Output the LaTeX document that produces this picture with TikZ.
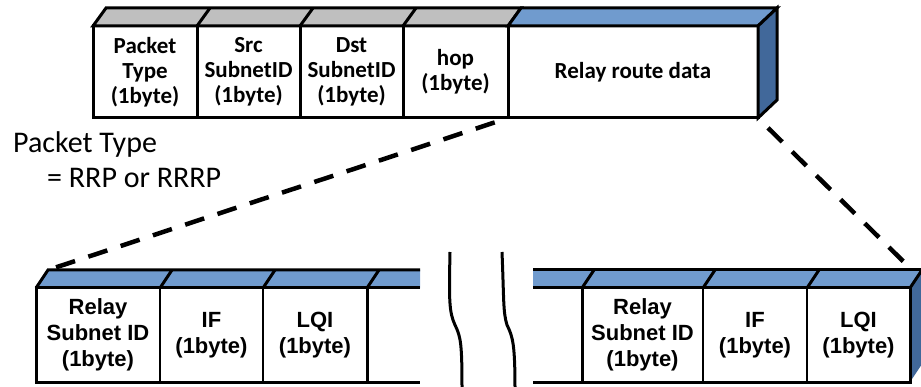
\documentclass[tikz,border=0pt]{standalone}
\usepackage{fontspec}
\setmainfont{Carlito}
\newfontfamily\arialfont{Liberation Sans}
\usetikzlibrary{calc}

\definecolor{facegray}{RGB}{191,191,191}
\definecolor{faceblue}{RGB}{112,155,206}
\definecolor{sideblue}{RGB}{65,104,154}

\tikzset{
  field/.style={draw,line width=3pt,fill=white,inner sep=0pt,outer sep=0pt,
    align=center,minimum height=92pt,
    font=\fontsize{23}{25}\selectfont\bfseries},
  subfield/.style={draw,line width=1.2pt,fill=white,inner sep=0pt,outer sep=0pt,
    align=center,minimum height=94pt,
    font=\arialfont\fontsize{22}{26}\selectfont\bfseries},
  outline/.style={line width=3pt,line join=miter},
  zoomline/.style={line width=4.5pt,dash pattern=on 20pt off 14pt,dash phase=20pt},
  wave/.style={line width=3pt}
}

\begin{document}
\begin{tikzpicture}[x=1pt,y=-1pt]
\useasboundingbox (0,0) rectangle (921,387);

% packet header
\foreach \name/\cx/\w/\txt in {ptype/145/104/{Packet\\Type\\(1byte)},
    src/248.5/103/{Src\\SubnetID\\(1byte)},
    dst/351.5/103/{Dst\\SubnetID\\(1byte)},
    hop/455.5/105/{hop\\(1byte)},
    relay/633/250/{Relay route data}}
  {
  \node[field,minimum width=\w pt] (\name) at (\cx,72) {\txt};
  }
\filldraw[outline,fill=facegray] (ptype.north west) -- ++(13,-18)
    -- ($(hop.north east)+(13,-18)$) -- (hop.north east) -- cycle;
\filldraw[outline,fill=faceblue] (relay.north west) -- ++(13,-18)
    -- ($(relay.north east)+(19,-18)$) -- (relay.north east) -- cycle;
\filldraw[outline,fill=sideblue] (relay.north east) -- ++(19,-18)
    -- ($(relay.south east)+(19,-18)$) -- (relay.south east) -- cycle;
\foreach \c in {src,dst,hop}
  \draw[outline] (\c.north west) -- ++(13,-18);

\node[anchor=base west,inner sep=0pt,font=\fontsize{30}{32}\selectfont]
  (ptlabel) at (13,153) {Packet Type};
\node[anchor=base west,inner sep=0pt,font=\fontsize{30}{32}\selectfont]
  (ptvalue) at (47,188) {= RRP or RRRP};

% relay route entries
\foreach \name/\cx/\w/\txt in {ra/98/124/{Relay\\Subnet ID\\(1byte)},
    rb/211.5/103/{IF\\(1byte)},
    rc/315/104/{LQI\\(1byte)},
    rx/642.5/121/{Relay\\Subnet ID\\(1byte)},
    ry/755/104/{IF\\(1byte)},
    rz/858.5/103/{LQI\\(1byte)}}
  {
  \node[subfield,minimum width=\w pt] (\name) at (\cx,335) {\txt};
  }
\coordinate (cutLt) at (420,288);
\coordinate (cutLb) at (420,382);
\coordinate (cutRt) at (533,288);
\coordinate (cutRb) at (533,382);

\fill[faceblue] (ra.north west) -- ++(12,-18) -- (cutLt |- 0,270) -- (cutLt) -- cycle;
\fill[faceblue] (cutRt) -- (cutRt |- 0,270) -- (925,270) -- (rz.north east) -- cycle;
\fill[sideblue] (rz.north east) -- ++(12,-18) -- ++(0,94) -- (rz.south east) -- cycle;

\draw[outline] (cutLt) -- (ra.north west) -- (ra.south west) -- (cutLb);
\draw[outline] (ra.north west) -- ++(12,-18) -- (cutLt |- 0,270);
\draw[outline] (rc.north east) -- (rc.south east);
\draw[outline] (cutRt) -- (rz.north east) -- (rz.south east) -- (cutRb);
\draw[outline] (cutRt |- 0,270) -- (925,270);
\draw[outline] (rx.north west) -- (rx.south west);
\foreach \c in {rb.north west,rc.north west,rc.north east,rx.north west,
    ry.north west,rz.north west,rz.north east}
  \draw[outline] (\c) -- ++(12,-18);

% cut marks
\draw[wave] (450,252) .. controls (449,300) and (449,312) .. (455,325)
    .. controls (461,337) and (462,345) .. (462,390);
\draw[wave] (502,252) .. controls (504,300) and (503,312) .. (507,325)
    .. controls (513,337) and (515,345) .. (515,390);

% zoom lines
\coordinate (raback) at ($(ra.north west)+(12,-18)$);
\coordinate (rzback) at (910,268);
\draw[zoomline] (relay.south west) -- (raback);
\draw[zoomline] (relay.south east) -- (rzback);
\end{tikzpicture}
\end{document}
